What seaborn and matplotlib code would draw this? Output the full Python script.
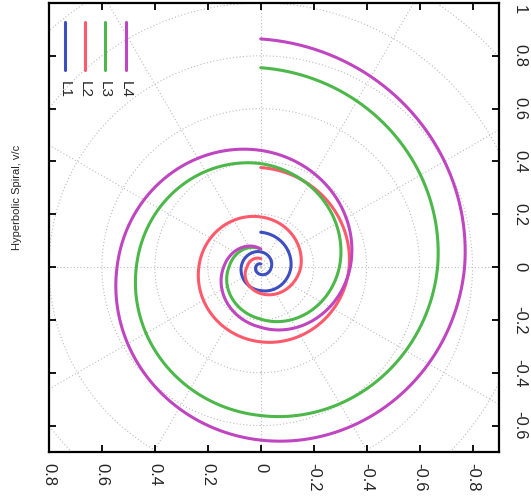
import numpy as np
import pandas as pd
import matplotlib
matplotlib.use("Agg")
import matplotlib.pyplot as plt
import matplotlib.transforms as mtransforms
import seaborn as sns
from matplotlib.patches import Circle

# ---------------- data ----------------
series_names = ["L1", "L2", "L3", "L4"]
series_colors = ["#3c4ec2", "#ff5a6b", "#4cb84a", "#c045c0"]

# angles (deg, clockwise from the top of the frame) at which radii were read
turn_angles = [0, 90, 180, 270, 360, 450, 540, 630, 720]
r_L1 = [0.132, 0.114, 0.089, 0.074, 0.058, 0.040, 0.028, 0.019, 0.012]
r_L2 = [0.377, 0.334, 0.283, 0.234, 0.190, 0.151, 0.100, 0.052, 0.032]
r_L3 = [0.755, 0.668, 0.562, 0.470, 0.392, 0.297, 0.197, 0.120, 0.068]
r_L4 = [0.864, 0.770, 0.655, 0.543, 0.442, 0.338, 0.228, 0.140, 0.068]

x_ticks = [0.8, 0.6, 0.4, 0.2, 0.0, -0.2, -0.4, -0.6, -0.8]
x_tick_labels = ["0.8", "0.6", "0.4", "0.2", "0", "-0.2", "-0.4", "-0.6", "-0.8"]
y_ticks = [1.0, 0.8, 0.6, 0.4, 0.2, 0.0, -0.2, -0.4, -0.6]
y_tick_labels = ["1", "0.8", "0.6", "0.4", "0.2", "0", "-0.2", "-0.4", "-0.6"]
y_label = "Hyperbolic Spiral, v/c"

grid_radii = [0.2, 0.4, 0.6, 0.8, 1.0, 1.2]
grid_spoke_angles = list(range(0, 360, 30))

# ---------------- build long table (curve traced between read radii) ----------------
radii = {"L1": r_L1, "L2": r_L2, "L3": r_L3, "L4": r_L4}
rows = []
phi_dense = np.linspace(turn_angles[0], turn_angles[-1], 1441)
for name in series_names:
    r = np.interp(phi_dense, turn_angles, radii[name])
    ph = np.deg2rad(phi_dense)
    df = pd.DataFrame({"x": -r * np.sin(ph), "y": r * np.cos(ph),
                       "series": name, "order": np.arange(len(ph))})
    rows.append(df)
data = pd.concat(rows, ignore_index=True)

# ---------------- styling ----------------
sns.set_theme(style="white")
plt.rcParams["font.family"] = ["Liberation Sans", "DejaVu Sans"]
plt.rcParams["axes.unicode_minus"] = False

W, H = 531, 504
fig = plt.figure(figsize=(W / 100, H / 100), dpi=100)
ax_l, ax_r, ax_t, ax_b = 49, 499, 3, 452
ax = fig.add_axes([ax_l / W, 1 - ax_b / H, (ax_r - ax_l) / W, (ax_b - ax_t) / H])

# polar grid
grid_kw = dict(color="#bdbdbd", lw=0.8, ls=(0, (1, 2)), zorder=0)
for rg in grid_radii:
    ax.add_patch(Circle((0, 0), rg, fill=False, **grid_kw))
for a in grid_spoke_angles:
    t = np.deg2rad(a)
    ax.plot([0, 1.4 * np.sin(t)], [0, 1.4 * np.cos(t)], **grid_kw)

sns.lineplot(data=data, x="x", y="y", hue="series", hue_order=series_names,
             palette=series_colors, sort=False, estimator=None, units="series",
             lw=2.2, legend=False, ax=ax)

ax.set_xlim(0.8, -0.9)
ax.set_ylim(-0.7, 1.0)
ax.set_xlabel("")
ax.set_ylabel("")

ax.set_xticks(x_ticks)
ax.set_xticklabels(x_tick_labels, rotation=-90, fontsize=12)
ax.set_yticks(y_ticks)
ax.set_yticklabels(y_tick_labels, rotation=-90, fontsize=12, va="center")
ax.tick_params(axis="both", direction="in", length=5, width=1.3, color="black",
               top=True, bottom=True, left=True, right=True,
               labelleft=False, labelright=True, labelbottom=True, labeltop=False)
ax.tick_params(axis="x", pad=8)
ax.tick_params(axis="y", pad=9.5)
for sp in ax.spines.values():
    sp.set_color("black")
    sp.set_linewidth(1.6)

# keep the top "1" label inside the picture
top_lab = ax.yaxis.get_major_ticks()[0].label2
top_lab.set_va("top")
top_lab.set_transform(top_lab.get_transform() +
                      mtransforms.ScaledTranslation(0, -2 / 100, fig.dpi_scale_trans))

# manual (rotated) legend
leg_x = [0.0356, 0.080, 0.1244, 0.171]
for name, col, fx in zip(series_names, series_colors, leg_x):
    ax.plot([fx, fx], [0.958, 0.851], color=col, lw=2.2, transform=ax.transAxes)
    ax.text(fx, 0.826, name, rotation=-90, ha="center", va="top", fontsize=11,
            transform=ax.transAxes)

fig.text(17 / W, 1 - 197 / H, y_label, rotation=90, ha="center", va="center",
         fontsize=8)

fig.savefig("out.png", dpi=100, facecolor="white")
